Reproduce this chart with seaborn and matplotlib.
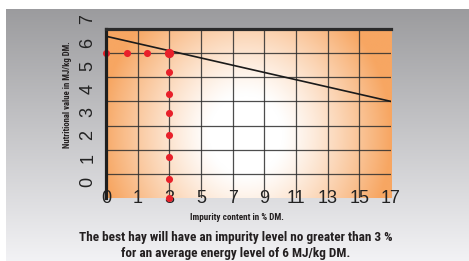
import numpy as np
import pandas as pd
import seaborn as sns
import matplotlib.pyplot as plt
import matplotlib.transforms as mtransforms

# data
impurity_ticks = [0, 1, 3, 5, 7, 9, 11, 13, 15, 17]   # x tick labels (% DM), evenly spaced columns
energy_ticks = [0, 1, 2, 3, 4, 5, 6, 7]               # y tick labels (MJ/kg DM)

trend_impurity = [0, 17]
trend_energy = [6.7, 4.0]

# red dotted guide lines (x in column units, y in grid units)
dots_h_col = [0.0, 0.65, 1.3, 2.0]
dots_h_energy = [6.0, 6.0, 6.0, 6.0]
dots_v_col = [2, 2, 2, 2, 2, 2, 2]
dots_v_energy = [5.2, 4.3, 3.5, 2.6, 1.7, 0.8, 0.0]
target_col = [2.0]
target_energy = [6.0]

sns.set_theme(style="white")
plt.rcParams['font.family'] = ['Liberation Sans', 'DejaVu Sans']

W, H = 469, 261
fig = plt.figure(figsize=(W / 100, H / 100), dpi=100)
fig.patch.set_facecolor("white")

# grey gradient panel behind everything
bg = fig.add_axes([6 / W, 0, 1 - 6 / W, 1 - 9 / H])
grey = np.linspace(0.61, 0.95, 256).reshape(-1, 1)
bg.imshow(np.dstack([grey, grey, grey + 0.01]).clip(0, 1), aspect="auto", extent=(0, 1, 0, 1))
bg.set_axis_off()

ax = fig.add_axes([106 / W, 63 / H, 285 / W, 169 / H])

# orange radial-ish gradient inside the plot area
gx, gy = np.meshgrid(np.linspace(0, 9, 300), np.linspace(7, 0, 200))
t = np.sqrt(((gx - 4.4) / 4.6) ** 2 + ((gy - 2.6) / 6.5) ** 2)
t = np.clip((t - 0.25) / 0.75, 0, 1) ** 1.2
orange = np.array([247, 166, 98]) / 255
img = (1 - t[..., None]) * np.ones(3) + t[..., None] * orange
ax.imshow(img, extent=(0, 9, 0, 7), aspect="auto", zorder=0)

for c in range(1, 9):
    ax.axvline(c, color="#2e2e2e", lw=0.9, alpha=0.85, zorder=1)
for r in range(1, 7):
    ax.axhline(r, color="#2e2e2e", lw=0.9, alpha=0.85, zorder=1)

trend = pd.DataFrame({"col": [impurity_ticks.index(v) for v in trend_impurity],
                      "energy": trend_energy})
sns.lineplot(data=trend, x="col", y="energy", color="#1a1a1a", lw=1.2, ax=ax, zorder=3)

red = "#e8202a"
sns.scatterplot(x=dots_h_col, y=dots_h_energy, color=red, s=26, linewidth=0, ax=ax, zorder=4, clip_on=False)
sns.scatterplot(x=dots_v_col, y=dots_v_energy, color=red, s=26, linewidth=0, ax=ax, zorder=4, clip_on=False)
sns.scatterplot(x=target_col, y=target_energy, color=red, s=45, linewidth=0, ax=ax, zorder=5, clip_on=False)

ax.set_xlim(0, 9)
ax.set_ylim(0, 7)
ax.set_xlabel("")
ax.set_ylabel("")

ax.set_xticks(range(len(impurity_ticks)), [str(v) for v in impurity_ticks])
ax.tick_params(axis="x", length=0, pad=-5.6, labelsize=13, labelcolor="#222222")
for lab in ax.get_xticklabels():
    lab.set_zorder(6)
ax.set_yticks([])

trans = mtransforms.blended_transform_factory(ax.transAxes, ax.transData)
for v in energy_ticks:
    ax.text(-0.063, v * 0.96 + 0.68, str(v), transform=trans, rotation=90,
            ha="center", va="center", fontsize=13, color="#222222", clip_on=False)

for side in ["right", "bottom"]:
    ax.spines[side].set_visible(False)
ax.spines["left"].set_linewidth(2.3)
ax.spines["left"].set_color("#1e1e1e")
ax.spines["top"].set_linewidth(2.3)
ax.spines["top"].set_color("#2b2b2b")
for s in ax.spines.values():
    s.set_zorder(7)

cond = ["Roboto Condensed", "Fira Sans Condensed", "IBM Plex Sans Condensed", "DejaVu Sans"]
fig.text(68 / W, 1 - 95 / H, "Nutritional value in MJ/kg DM.", rotation=90, ha="center", va="center",
         fontsize=6.3, fontweight="bold", family=cond, color="#231f20")
fig.text(237 / W, 1 - 218 / H, "Impurity content in % DM.", ha="center", va="center",
         fontsize=6.6, fontweight="bold", family=cond, color="#231f20")
fig.text(236 / W, 1 - 237 / H, "The best hay will have an impurity level no greater than 3 %",
         ha="center", va="center", fontsize=9.5, fontweight="bold", family=cond, color="#231f20")
fig.text(236 / W, 1 - 253 / H, "for an average energy level of 6 MJ/kg DM.",
         ha="center", va="center", fontsize=9.5, fontweight="bold", family=cond, color="#231f20")

fig.savefig("out.png", dpi=100)
